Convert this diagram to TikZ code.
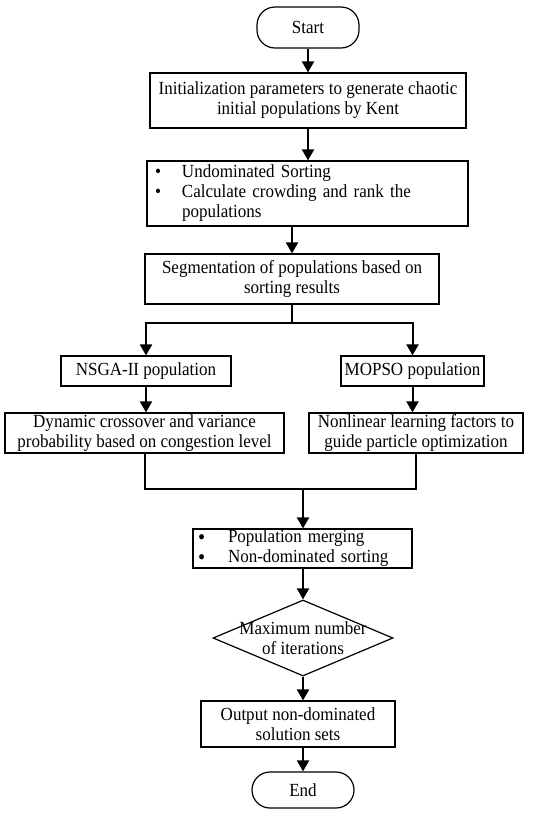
\documentclass[tikz,border=0pt]{standalone}
\usepackage{fontspec}
\setmainfont[FakeStretch=0.92]{Liberation Serif}
\usetikzlibrary{arrows.meta, positioning, shapes.geometric}

\newcommand{\bul}[1]{\makebox[#1][l]{\textbullet}}
\newcommand{\bigbul}[1]{\makebox[#1][l]{\raisebox{-1.5pt}[0pt][0pt]{\fontsize{22}{20}\selectfont\textbullet}}}

\begin{document}
\begin{tikzpicture}[x=1pt,y=-1pt,
    font=\fontsize{18.5}{20}\selectfont,
    box/.style={draw, line width=1.2pt, inner sep=0pt, align=center},
    term/.style={box, rounded corners=18pt},
    decide/.style={draw, diamond, line width=1.2pt, inner sep=0pt},
    link/.style={line width=2pt},
    arr/.style={link, -{Triangle[length=11pt, width=12pt]}}]
  \useasboundingbox (0,0) rectangle (550,814);

  \node[term, minimum width=102pt, minimum height=41pt] (start) at (308,27.5) {Start};
  \node[box, minimum width=316pt, minimum height=55pt] (init) at (308,100.5)
    {Initialization parameters to generate chaotic\\initial populations by Kent};
  \node[box, text width=305pt, inner xsep=8pt, minimum height=65pt, align=left] (sort) at (307.5,193.5)
    {\bul{27pt}Undominated Sorting\\\bul{27pt}Calculate crowding and rank the\\\hspace*{27pt}populations};
  \node[box, minimum width=294pt, minimum height=50pt] (seg) at (292,279)
    {Segmentation of populations based on\\sorting results};
  \node[box, minimum width=170pt, minimum height=30pt] (nsga) at (146,371) {NSGA-II population};
  \node[box, minimum width=143pt, minimum height=30pt] (mopso) at (412.5,371) {MOPSO population};
  \node[box, minimum width=279pt, minimum height=40pt] (dyn) at (144.5,433)
    {Dynamic crossover and variance\\probability based on congestion level};
  \node[box, minimum width=214pt, minimum height=40pt] (nonlin) at (416,433)
    {Nonlinear learning factors to\\guide particle optimization};
  \node[box, text width=209pt, inner xsep=5pt, minimum height=39pt, align=left] (merge) at (302.5,548.5)
    {\bigbul{30pt}Population merging\\\bigbul{30pt}Non-dominated sorting};
  \node[decide, minimum width=180pt, minimum height=76pt] (iter) at (303,638) {};
  \node[align=center] (itertext) at (iter) {Maximum number\\of iterations};
  \node[box, minimum width=194pt, minimum height=46pt] (out) at (298,724)
    {Output non-dominated\\solution sets};
  \node[term, minimum width=102pt, minimum height=36pt] (end) at (303,790) {End};

  \coordinate (split) at (292,323);
  \coordinate (join) at (303,489);

  \draw[arr] (start) -- (init);
  \draw[arr] (init) -- (init |- sort.north);
  \draw[arr] (sort.south -| seg) -- (seg.north);
  \draw[link] (seg.south) -- (split);
  \draw[arr] (split) -| (nsga.north);
  \draw[arr] (split) -| (mopso.north);
  \draw[arr] (nsga.south) -- (nsga.south |- dyn.north);
  \draw[arr] (mopso.south) -- (mopso.south |- nonlin.north);
  \draw[link] (dyn.south) |- (join);
  \draw[link] (nonlin.south) |- (join);
  \draw[arr] (join) -- (join |- merge.north);
  \draw[arr] (merge.south -| iter) -- (iter.north);
  \draw[arr] (iter.south) -- (iter.south |- out.north);
  \draw[arr] (out.south -| iter) -- (end.north);
\end{tikzpicture}
\end{document}
